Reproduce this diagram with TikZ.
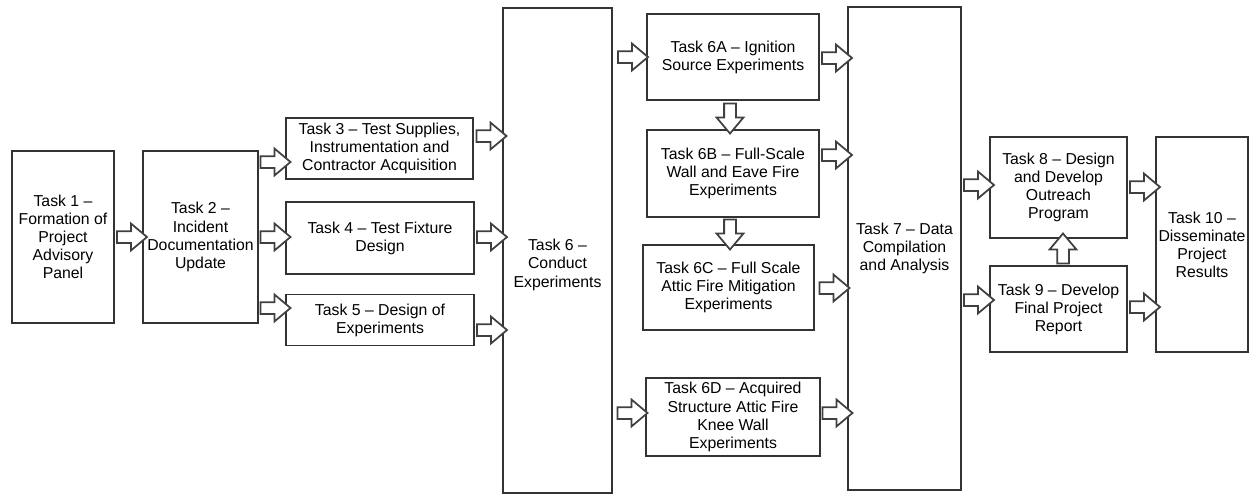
\documentclass[tikz,border=0pt]{standalone}
\usepackage{fontspec}
\setmainfont{Liberation Sans}
\usetikzlibrary{shapes.arrows}

\begin{document}
\begin{tikzpicture}[
    x=0.02cm, y=-0.02cm,
    font=\fontsize{9}{10.3}\selectfont,
    taskbox/.style={draw=black!80, line width=0.9pt, align=center, inner sep=1pt},
    fatarrow/.style={single arrow, draw=black!75, fill=white, line width=1pt,
        minimum height=0.6cm, inner xsep=0pt, inner ysep=0.1cm,
        single arrow head extend=0.15cm, single arrow tip angle=80}
]
    \useasboundingbox (0,0) rectangle (1252,495);

    \node[taskbox, minimum width=2.04cm, minimum height=3.44cm] (t1) at (63,237)
        {Task 1 –\\Formation of\\Project\\Advisory\\Panel};
    \node[taskbox, minimum width=2.3cm, minimum height=3.44cm] (t2) at (200.5,237)
        {Task 2 –\\Incident\\Documentation\\Update};
    \node[taskbox, minimum width=3.74cm, minimum height=1.22cm] (t3) at (379.5,148.5)
        {Task 3 – Test Supplies,\\Instrumentation and\\Contractor Acquisition};
    \node[taskbox, minimum width=3.76cm, minimum height=1.44cm] (t4) at (380,238)
        {Task 4 – Test Fixture\\Design};
    \node[taskbox, minimum width=3.76cm, minimum height=1.02cm] (t5) at (380,320)
        {Task 5 – Design of\\Experiments};
    \node[taskbox, minimum width=2.18cm, minimum height=9.7cm] (t6) at (557.5,250.5)
        {\\[1.4em]Task 6 –\\Conduct\\Experiments};
    \node[taskbox, minimum width=3.44cm, minimum height=1.72cm] (t6a) at (733,57)
        {Task 6A – Ignition\\Source Experiments};
    \node[taskbox, minimum width=3.44cm, minimum height=1.74cm] (t6b) at (733,173.5)
        {Task 6B – Full-Scale\\Wall and Eave Fire\\Experiments};
    \node[taskbox, minimum width=3.42cm, minimum height=1.7cm] (t6c) at (728.5,287.5)
        {Task 6C – Full Scale\\Attic Fire Mitigation\\Experiments};
    \node[taskbox, minimum width=3.48cm, minimum height=1.56cm] (t6d) at (733,417)
        {Task 6D – Acquired\\Structure Attic Fire\\Knee Wall\\Experiments};
    \node[taskbox, minimum width=2.26cm, minimum height=9.66cm] (t7) at (904.5,248.5)
        {Task 7 – Data\\Compilation\\and Analysis};
    \node[taskbox, minimum width=2.74cm, minimum height=2.02cm] (t8) at (1058.5,187.5)
        {Task 8 – Design\\and Develop\\Outreach\\Program};
    \node[taskbox, minimum width=2.74cm, minimum height=1.72cm] (t9) at (1058.5,309)
        {Task 9 – Develop\\Final Project\\Report};
    \node[taskbox, minimum width=1.84cm, minimum height=4.3cm] (t10) at (1202,244.5)
        {Task 10 –\\Disseminate\\Project\\Results};

    % horizontal arrows
    \path (t1.east |- 0,237) -- (t2.west |- 0,237) node[midway, fatarrow] (a12) {};
    \path (t2.east |- 0,162) -- (t3.west |- 0,162) node[midway, fatarrow] (a23) {};
    \path (t2.east |- 0,237) -- (t4.west |- 0,237) node[midway, fatarrow] (a24) {};
    \path (t2.east |- 0,308) -- (t5.west |- 0,308) node[midway, fatarrow] (a25) {};
    \path (t3.east |- 0,136) -- (t6.west |- 0,136) node[midway, fatarrow] (a36) {};
    \path (t4.east |- 0,237) -- (t6.west |- 0,237) node[midway, fatarrow] (a46) {};
    \path (t5.east |- 0,330) -- (t6.west |- 0,330) node[midway, fatarrow] (a56) {};
    \path (t6.east |- 0,57) -- (t6a.west |- 0,57) node[midway, fatarrow] (a6a) {};
    \path (t6.east |- 0,413) -- (t6d.west |- 0,413) node[midway, fatarrow] (a6d) {};
    \path (t6a.east |- 0,58) -- (t7.west |- 0,58) node[midway, fatarrow] (aa7) {};
    \path (t6b.east |- 0,155) -- (t7.west |- 0,155) node[midway, fatarrow] (ab7) {};
    \path (t6c.east |- 0,288) -- (t7.west |- 0,288) node[midway, fatarrow] (ac7) {};
    \path (t6d.east |- 0,413) -- (t7.west |- 0,413) node[midway, fatarrow] (ad7) {};
    \path (t7.east |- 0,185) -- (t8.west |- 0,185) node[midway, fatarrow] (a78) {};
    \path (t7.east |- 0,300) -- (t9.west |- 0,300) node[midway, fatarrow] (a79) {};
    \path (t8.east |- 0,187) -- (t10.west |- 0,187) node[midway, fatarrow] (a810) {};
    \path (t9.east |- 0,307) -- (t10.west |- 0,307) node[midway, fatarrow] (a910) {};

    % vertical arrows
    \path (t6a.south -| 730,0) -- (t6b.north -| 730,0) node[midway, fatarrow, rotate=-90] (aab) {};
    \path (t6b.south -| 730,0) -- (t6c.north -| 730,0) node[midway, fatarrow, rotate=-90] (abc) {};
    \path (t9.north -| 1063,0) -- (t8.south -| 1063,0) node[midway, fatarrow, rotate=90] (a98) {};
\end{tikzpicture}
\end{document}
